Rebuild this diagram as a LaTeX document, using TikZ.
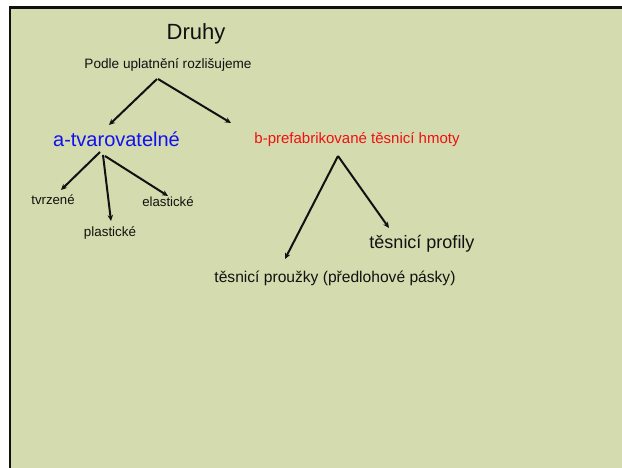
\documentclass[tikz,border=0pt]{standalone}
\usepackage{fontspec}
\setmainfont{Liberation Sans}
\usetikzlibrary{arrows.meta}
\definecolor{slide}{HTML}{d4dbae}
\definecolor{ink}{HTML}{111111}
\definecolor{tblue}{HTML}{1010f0}
\definecolor{tred}{HTML}{f01010}

\begin{document}
\begin{tikzpicture}[x=1pt,y=-1pt,
  lbl/.style={ink,anchor=base,inner sep=0pt},
  arr/.style={ink,line width=2pt,-{Stealth[length=6pt,width=5.5pt]}}]
  \useasboundingbox (0,0) rectangle (622,468);
  \fill[white] (0,0) rectangle (622,468);
  \fill[slide] (10,7.5) rectangle (622,468);

  % Frame (top and left edge only)
  \draw[ink,line width=2.5pt] (10,468) -- (10,7.5) -- (622,7.5);

  % Title and lead line
  \node[lbl,font=\fontsize{22}{26}\selectfont] (druhy) at (196,40) {Druhy};
  \node[lbl,font=\fontsize{13.6}{16}\selectfont] (podle) at (168,69) {Podle uplatnění rozlišujeme};

  % The two groups
  \node[lbl,tblue,font=\fontsize{20}{24}\selectfont] (atv) at (116.5,147) {a-tvarovatelné};
  \node[lbl,tred,font=\fontsize{15}{18}\selectfont] (bpref) at (357,144) {b-prefabrikované těsnicí hmoty};

  % Kinds under a
  \node[lbl,font=\fontsize{13.2}{16}\selectfont] (tvrz) at (53,205) {tvrzené};
  \node[lbl,font=\fontsize{13.4}{16}\selectfont] (plast) at (110,237) {plastické};
  \node[lbl,font=\fontsize{13.2}{16}\selectfont] (elast) at (168,207) {elastické};

  % Kinds under b
  \node[lbl,font=\fontsize{18}{22}\selectfont] (prof) at (422,248) {těsnicí profily};
  \node[lbl,font=\fontsize{15.6}{19}\selectfont] (prouz) at (335,283) {těsnicí proužky (předlohové pásky)};

  % Arrows
  \draw[arr] ([shift={(-11,10)}]podle.base) -- ([shift={(-7.5,-22)}]atv.base);
  \draw[arr] ([shift={(-10,10)}]podle.base) -- ([shift={(-126,-21)}]bpref.base);
  \draw[arr] ([shift={(-16.5,5)}]atv.base) -- ([shift={(8,-15)}]tvrz.base);
  \draw[arr] ([shift={(-13.5,8)}]atv.base) -- ([shift={(1,-16)}]plast.base);
  \draw[arr] ([shift={(-11.5,9)}]atv.base) -- ([shift={(0,-11)}]elast.base);
  \draw[arr] ([shift={(-19,12)}]bpref.base) -- ([shift={(-50,-24)}]prouz.base);
  \draw[arr] ([shift={(-19,12)}]bpref.base) -- ([shift={(-33,-20)}]prof.base);

\end{tikzpicture}
\end{document}
